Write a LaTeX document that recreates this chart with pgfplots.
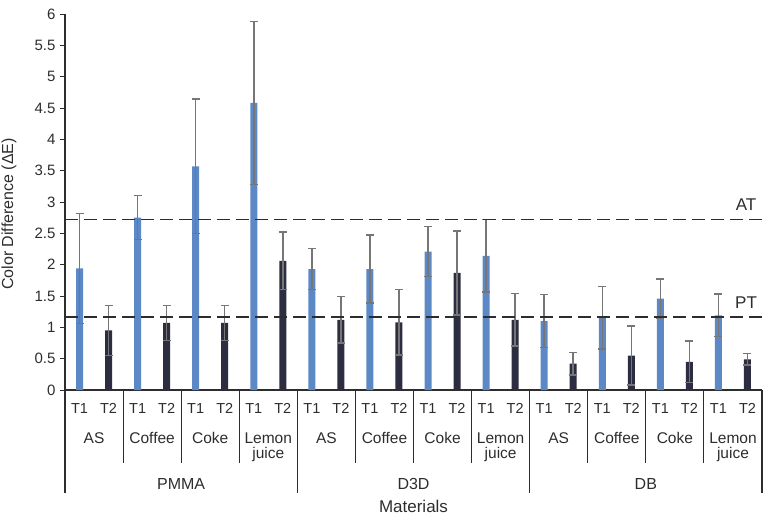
\documentclass[border=0pt]{standalone}
\usepackage{fontspec}
\setmainfont{Liberation Sans}
\usepackage{pgfplots}
\usepackage{pgfplotstable}
\pgfplotsset{compat=1.18}
\definecolor{tone}{RGB}{92,137,197}
\definecolor{ttwo}{RGB}{44,45,64}
\definecolor{errc}{RGB}{118,118,118}
\definecolor{txt}{RGB}{45,45,45}

\pgfplotstableread{
x y e
0 1.94 0.88
2 2.75 0.35
4 3.57 1.07
6 4.58 1.30
8 1.93 0.33
10 1.93 0.54
12 2.21 0.40
14 2.14 0.58
16 1.10 0.42
18 1.155 0.50
20 1.46 0.31
22 1.19 0.34
}\Tone
\pgfplotstableread{
x y e
1 0.95 0.40
3 1.07 0.28
5 1.07 0.28
7 2.06 0.46
9 1.12 0.37
11 1.08 0.52
13 1.87 0.67
15 1.12 0.42
17 0.42 0.18
19 0.55 0.47
21 0.45 0.33
23 0.49 0.09
}\Ttwo

\begin{document}
\begin{tikzpicture}[x=1pt,y=1pt]
\path[use as bounding box] (0,0) rectangle (773,514);
\begin{axis}[
  at={(65pt,124pt)}, anchor=south west,
  scale only axis, width=697pt, height=376pt,
  xmin=-0.5, xmax=23.5, ymin=0, ymax=6,
  clip=false,
  axis x line=bottom, axis y line=left,
  axis line style={-, draw=txt, line width=1.1pt},
  xtick=\empty,
  ytick={0,0.5,1,1.5,2,2.5,3,3.5,4,4.5,5,5.5,6},
  tick align=outside, major tick length=5pt,
  y tick style={draw=txt, line width=0.9pt},
  /pgf/number format/assume math mode=true,
  yticklabel style={font=\fontsize{15}{15}\selectfont, text=txt, xshift=-1pt},
  ylabel={Color Difference (ΔE)},
  every axis y label/.style={at={(axis description cs:0,0.5)}, xshift=-56pt, yshift=-12pt, rotate=90, anchor=center, font=\fontsize{16}{16}\selectfont, text=txt},
]
\addplot[ybar, bar width=7pt, bar shift=0pt, fill=tone, draw=none]
  table[x=x, y=y]{\Tone};
\addplot[ybar, bar width=7pt, bar shift=0pt, fill=ttwo, draw=none]
  table[x=x, y=y]{\Ttwo};
\addplot[draw=none, mark=none, forget plot,
  error bars/.cd, y dir=both, y explicit, error mark=|,
  error bar style={draw=errc, line width=1.5pt},
  error mark options={draw=errc, line width=1.5pt, mark size=4pt}]
  table[x=x, y=y, y error=e]{\Tone};
\addplot[draw=none, mark=none, forget plot,
  error bars/.cd, y dir=both, y explicit, error mark=|,
  error bar style={draw=errc, line width=1.5pt},
  error mark options={draw=errc, line width=1.5pt, mark size=4pt}]
  table[x=x, y=y, y error=e]{\Ttwo};
\addplot[txt, line width=1.8pt, dash pattern=on 13pt off 6pt, mark=none] coordinates {(-0.5,2.72) (23.5,2.72)};
\addplot[txt, line width=1.8pt, dash pattern=on 13pt off 6pt, mark=none] coordinates {(-0.5,1.16) (23.5,1.16)};
\node[font=\fontsize{17}{17}\selectfont, text=txt] at (axis cs:22.95,2.95) {AT};
\node[font=\fontsize{17}{17}\selectfont, text=txt] at (axis cs:22.95,1.40) {PT};
% T1/T2 labels
\pgfplotsinvokeforeach{0,2,4,6,8,10,12,14,16,18,20,22}{
  \node[anchor=base, font=\fontsize{14.5}{14.5}\selectfont, text=txt] at ([yshift=-23pt]axis cs:#1,0) {T1};
}
\pgfplotsinvokeforeach{1,3,5,7,9,11,13,15,17,19,21,23}{
  \node[anchor=base, font=\fontsize{14.5}{14.5}\selectfont, text=txt] at ([yshift=-23pt]axis cs:#1,0) {T2};
}
% separators
\pgfplotsinvokeforeach{1.5,3.5,5.5,9.5,11.5,13.5,17.5,19.5,21.5}{
  \draw[txt, line width=1.1pt] (axis cs:#1,0) -- ([yshift=-73pt]axis cs:#1,0);
}
\pgfplotsinvokeforeach{-0.5,7.5,15.5,23.5}{
  \draw[txt, line width=1.1pt] (axis cs:#1,0) -- ([yshift=-103pt]axis cs:#1,0);
}
% category labels
\pgfplotsinvokeforeach{0.5,8.5,16.5}{
  \node[anchor=base, font=\fontsize{15.5}{15.5}\selectfont, text=txt] at ([yshift=-53pt]axis cs:#1,0) {AS};
}
\pgfplotsinvokeforeach{2.5,10.5,18.5}{
  \node[anchor=base, font=\fontsize{15.5}{15.5}\selectfont, text=txt] at ([yshift=-53pt]axis cs:#1,0) {Coffee};
}
\pgfplotsinvokeforeach{4.5,12.5,20.5}{
  \node[anchor=base, font=\fontsize{15.5}{15.5}\selectfont, text=txt] at ([yshift=-53pt]axis cs:#1,0) {Coke};
}
\pgfplotsinvokeforeach{6.5,14.5,22.5}{
  \node[anchor=base, align=center, font=\fontsize{15.5}{15}\selectfont, text=txt] at ([yshift=-68pt]axis cs:#1,0) {Lemon\\juice};
}
% material labels
\node[anchor=base, font=\fontsize{16}{16}\selectfont, text=txt] at ([yshift=-99pt]axis cs:3.5,0) {PMMA};
\node[anchor=base, font=\fontsize{16}{16}\selectfont, text=txt] at ([yshift=-99pt]axis cs:11.5,0) {D3D};
\node[anchor=base, font=\fontsize{16}{16}\selectfont, text=txt] at ([yshift=-99pt]axis cs:19.5,0) {DB};
\node[anchor=base, font=\fontsize{17}{17}\selectfont, text=txt] at ([yshift=-122pt]axis cs:11.5,0) {Materials};
\end{axis}
\end{tikzpicture}
\end{document}
